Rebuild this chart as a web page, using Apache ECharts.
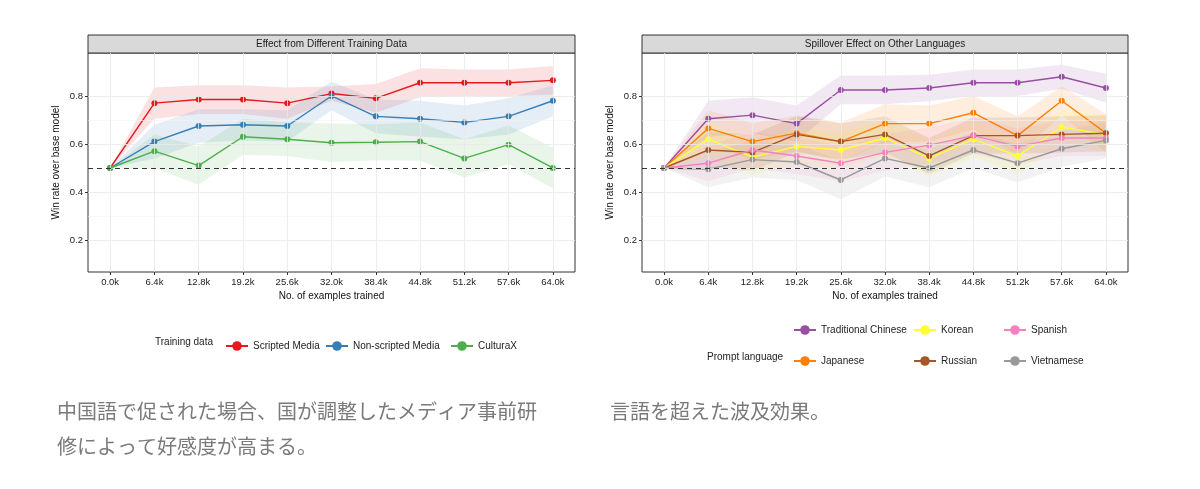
<!DOCTYPE html>
<html><head><meta charset="utf-8">
<script src="https://cdn.jsdelivr.net/npm/echarts@6/dist/echarts.min.js"></script>
<style>html,body{margin:0;padding:0;background:#fff}#c{width:1200px;height:489px}</style>
</head><body><div id="c"></div>
<script>
const xLabels = ['0.0k','6.4k','12.8k','19.2k','25.6k','32.0k','38.4k','44.8k','51.2k','57.6k','64.0k'];
const yTicks = [0.2,0.4,0.6,0.8];
const yMinor = [0.3,0.5,0.7];
// Left panel
const scripted    = [0.5,0.77,0.785,0.785,0.77,0.81,0.79,0.855,0.855,0.855,0.865];
const scriptedErr = [0,0.065,0.06,0.06,0.065,0.03,0.06,0.06,0.055,0.055,0.06];
const nonScripted    = [0.5,0.61,0.675,0.68,0.675,0.80,0.715,0.705,0.69,0.715,0.78];
const nonScriptedErr = [0,0.07,0.07,0.065,0.065,0.06,0.07,0.075,0.07,0.075,0.065];
const culturax    = [0.5,0.57,0.51,0.63,0.62,0.605,0.607,0.61,0.54,0.597,0.50];
const culturaxErr = [0,0.07,0.08,0.075,0.07,0.08,0.075,0.08,0.08,0.08,0.085];
// Right panel
const tradChinese    = [0.5,0.705,0.72,0.685,0.825,0.825,0.833,0.855,0.855,0.88,0.833];
const tradChineseErr = [0,0.075,0.075,0.075,0.06,0.06,0.055,0.055,0.055,0.05,0.06];
const japanese    = [0.5,0.665,0.61,0.645,0.61,0.685,0.685,0.73,0.635,0.78,0.645];
const japaneseErr = [0,0.075,0.075,0.075,0.08,0.08,0.075,0.07,0.08,0.06,0.08];
const korean    = [0.5,0.62,0.545,0.59,0.575,0.625,0.54,0.62,0.55,0.67,0.64];
const koreanErr = [0,0.075,0.075,0.075,0.075,0.075,0.075,0.075,0.075,0.07,0.075];
const russian    = [0.5,0.575,0.565,0.64,0.61,0.64,0.55,0.635,0.635,0.64,0.645];
const russianErr = [0,0.075,0.075,0.075,0.075,0.075,0.075,0.075,0.075,0.075,0.075];
const spanish    = [0.5,0.52,0.575,0.55,0.52,0.565,0.595,0.635,0.59,0.625,0.625];
const spanishErr = [0,0.075,0.075,0.075,0.075,0.075,0.075,0.075,0.075,0.075,0.075];
const vietnamese    = [0.5,0.495,0.535,0.525,0.45,0.54,0.50,0.575,0.52,0.58,0.615];
const vietnameseErr = [0,0.075,0.075,0.075,0.08,0.075,0.08,0.075,0.08,0.075,0.075];

const leftSeries = [
  {name:'Scripted Media', v:scripted, e:scriptedErr, c:'#e41a1c'},
  {name:'Non-scripted Media', v:nonScripted, e:nonScriptedErr, c:'#377eb8'},
  {name:'CulturaX', v:culturax, e:culturaxErr, c:'#4daf4a'}
];
const rightSeries = [
  {name:'Traditional Chinese', v:tradChinese, e:tradChineseErr, c:'#984ea3'},
  {name:'Japanese', v:japanese, e:japaneseErr, c:'#ff7f00'},
  {name:'Korean', v:korean, e:koreanErr, c:'#ffff33'},
  {name:'Russian', v:russian, e:russianErr, c:'#a65628'},
  {name:'Spanish', v:spanish, e:spanishErr, c:'#f781bf'},
  {name:'Vietnamese', v:vietnamese, e:vietnameseErr, c:'#999999'}
];

const FONT = 'Liberation Sans, Arial, sans-serif';
const grids = [
  {left:88, top:53, width:487, height:219, show:true, borderColor:'#333', borderWidth:1, backgroundColor:'#fff'},
  {left:642, top:53, width:486, height:219, show:true, borderColor:'#333', borderWidth:1, backgroundColor:'#fff'}
];
const xAxes = [0,1].map(i=>({gridIndex:i, type:'category', data:xLabels, boundaryGap:true,
  axisLine:{show:false}, splitLine:{show:false},
  axisTick:{show:true, alignWithLabel:true, length:3, lineStyle:{color:'#333'}},
  axisLabel:{color:'#222', fontSize:9.5, fontFamily:FONT, margin:5, interval:0},
  name:'No. of examples trained', nameLocation:'middle', nameGap:19, nameTextStyle:{color:'#111', fontSize:10, fontFamily:FONT}
}));
const yAxes = [0,1].map(i=>({gridIndex:i, type:'value', min:0.0667, max:0.979,
  axisLine:{show:false}, splitLine:{show:false},
  axisTick:{show:true, customValues:yTicks, length:3, lineStyle:{color:'#333'}},
  axisLabel:{customValues:yTicks, formatter:v=>v.toFixed(1), color:'#222', fontSize:9.5, fontFamily:FONT, margin:5},
  name:'Win rate over base model', nameLocation:'middle', nameGap:27, nameTextStyle:{color:'#111', fontSize:10, fontFamily:FONT}
}));

const series = [];
function gridSeries(i){
  const lines = [];
  yTicks.forEach(v=>lines.push({yAxis:v, lineStyle:{color:'#e8e8e8', width:0.8, type:'solid'}}));
  yMinor.forEach(v=>lines.push({yAxis:v, lineStyle:{color:'#f3f3f3', width:0.6, type:'solid'}}));
  xLabels.forEach(l=>lines.push({xAxis:l, lineStyle:{color:'#e8e8e8', width:0.8, type:'solid'}}));
  series.push({type:'line', xAxisIndex:i, yAxisIndex:i, data:[], silent:true, z:0,
    markLine:{silent:true, symbol:'none', label:{show:false}, data:lines, animation:false}});
}
function addPanel(list, i){
  gridSeries(i);
  list.forEach((s,k)=>{
    const st = 'band'+i+'_'+k;
    series.push({type:'line', xAxisIndex:i, yAxisIndex:i, stack:st, symbol:'none', silent:true,
      lineStyle:{opacity:0}, data:s.v.map((v,j)=>+(v - s.e[j]).toFixed(4)), z:1});
    series.push({type:'line', xAxisIndex:i, yAxisIndex:i, stack:st, symbol:'none', silent:true,
      lineStyle:{opacity:0}, areaStyle:{color:s.c, opacity:0.13}, data:s.e.map(e=>+(2*e).toFixed(4)), z:1});
  });
  list.forEach(s=>{
    series.push({type:'line', name:s.name, xAxisIndex:i, yAxisIndex:i, data:s.v,
      color:s.c, lineStyle:{width:1.4, color:s.c}, symbol:'circle', symbolSize:6,
      itemStyle:{color:s.c}, z:3});
  });
  series.push({type:'line', xAxisIndex:i, yAxisIndex:i, data:[], z:4,
    markLine:{silent:true, symbol:'none', label:{show:false}, animation:false,
      data:[{yAxis:0.5, lineStyle:{color:'#333', width:1.2, type:[5,4]}}]}});
}
addPanel(leftSeries,0);
addPanel(rightSeries,1);

const legendBase = {itemWidth:22, itemHeight:12, textStyle:{fontSize:10, color:'#222', fontFamily:FONT}};
const legends = [];
const leftPos = [220, 320, 445];
leftSeries.forEach((s,k)=>legends.push(Object.assign({}, legendBase, {left:leftPos[k], top:336, data:[s.name]})));
const rightPos = [[788,320],[908,320],[998,320],[788,351],[908,351],[998,351]];
const order = ['Traditional Chinese','Korean','Spanish','Japanese','Russian','Vietnamese'];
order.forEach((n,k)=>legends.push(Object.assign({}, legendBase, {left:rightPos[k][0], top:rightPos[k][1], data:[n]})));

const option = {
  animation:false,
  grid:grids, xAxis:xAxes, yAxis:yAxes, series, legend:legends,
  graphic:[
    {type:'rect', shape:{x:88,y:35,width:487,height:18}, style:{fill:'#d9d9d9', stroke:'#333', lineWidth:1}},
    {type:'text', x:331.5, y:44, style:{text:'Effect from Different Training Data', fontSize:10, fontFamily:FONT, fill:'#1a1a1a', align:'center', verticalAlign:'middle'}},
    {type:'rect', shape:{x:642,y:35,width:486,height:18}, style:{fill:'#d9d9d9', stroke:'#333', lineWidth:1}},
    {type:'text', x:885, y:44, style:{text:'Spillover Effect on Other Languages', fontSize:10, fontFamily:FONT, fill:'#1a1a1a', align:'center', verticalAlign:'middle'}},
    {type:'text', x:155, y:342, style:{text:'Training data', fontSize:10, fontFamily:FONT, fill:'#222', verticalAlign:'middle'}},
    {type:'text', x:707, y:357, style:{text:'Prompt language', fontSize:10, fontFamily:FONT, fill:'#222', verticalAlign:'middle'}},
    {type:'text', x:57, y:411, style:{text:'中国語で促された場合、国が調整したメディア事前研', fontSize:20, fontFamily:'Noto Sans CJK JP', fill:'#7a7a7a', verticalAlign:'middle'}},
    {type:'text', x:57, y:446, style:{text:'修によって好感度が高まる。', fontSize:20, fontFamily:'Noto Sans CJK JP', fill:'#7a7a7a', verticalAlign:'middle'}},
    {type:'text', x:610, y:411, style:{text:'言語を超えた波及効果。', fontSize:20, fontFamily:'Noto Sans CJK JP', fill:'#7a7a7a', verticalAlign:'middle'}}
  ]
};
echarts.init(document.getElementById('c')).setOption(option);
</script></body></html>
